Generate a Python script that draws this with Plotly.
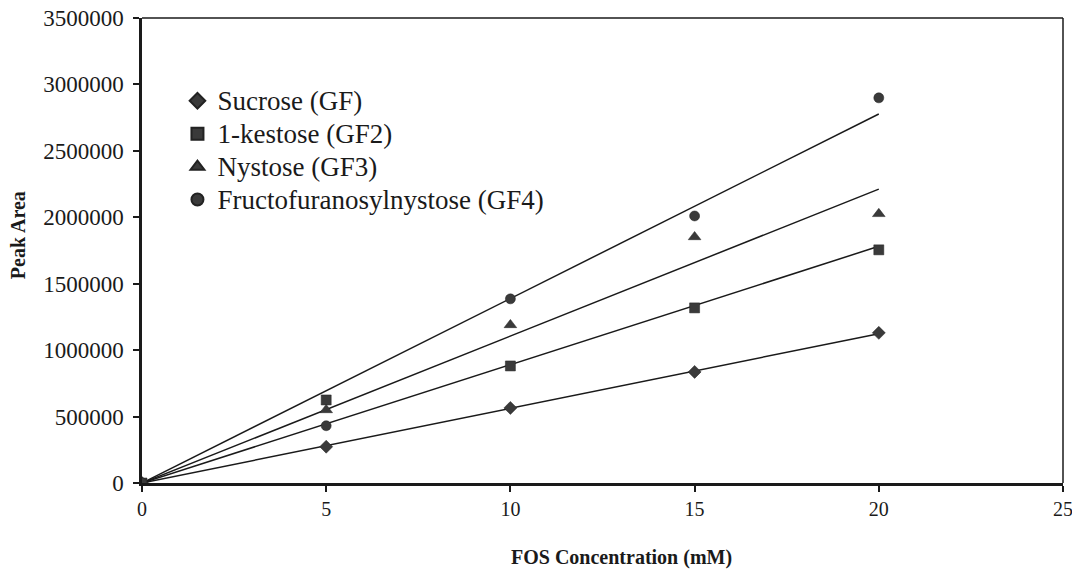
import numpy as np
import plotly.graph_objects as go

conc = [0, 5, 10, 15, 20]
sucrose = [0, 273000, 565000, 836000, 1130000]
kestose = [0, 625000, 881000, 1318000, 1755000]
nystose = [0, 550000, 1190000, 1852000, 2026000]
gf4 = [0, 431000, 1386000, 2010000, 2899000]

names = ["Sucrose (GF)", "1-kestose (GF2)", "Nystose (GF3)", "Fructofuranosylnystose (GF4)"]
series = [sucrose, kestose, nystose, gf4]
symbols = ["diamond", "square", "triangle-up", "circle"]
sizes = [10, 10, 11, 10]

x_ticks = [0, 5, 10, 15, 20, 25]
y_ticks = [0, 500000, 1000000, 1500000, 2000000, 2500000, 3000000, 3500000]

fig = go.Figure()
x = np.array(conc, dtype=float)
for name, ys in zip(names, series):
    y = np.array(ys, dtype=float)
    slope = float((x * y).sum() / (x * x).sum())
    fig.add_trace(go.Scatter(x=[0, 20], y=[0, slope * 20], mode="lines",
                             line=dict(color="#1a1a1a", width=1.5),
                             showlegend=False, hoverinfo="skip"))
for name, ys, sym, sz in zip(names, series, symbols, sizes):
    fig.add_trace(go.Scatter(x=conc, y=ys, mode="markers",
                             name='<span style="font-size:27px">' + name + '</span>',
                             marker=dict(symbol=sym, size=sz, color="#3a3a3a",
                                         line=dict(color="#222", width=0.5))))

font = "Liberation Serif, Times New Roman, serif"
fig.update_layout(
    width=1072, height=575,
    margin=dict(l=142, r=9, t=18, b=92, autoexpand=False),
    paper_bgcolor="white", plot_bgcolor="white",
    font=dict(family=font, color="#1a1a1a", size=16),
    showlegend=True,
    legend=dict(x=0.0385, y=0.868, xanchor="left", yanchor="top",
                font=dict(family=font, size=23, color="#1a1a1a"),
                bgcolor="rgba(0,0,0,0)", itemsizing="constant",
                tracegroupgap=0),
    shapes=[
        dict(type="line", xref="paper", yref="paper", x0=0, x1=1, y0=1, y1=1,
             line=dict(color="#1a1a1a", width=1.5)),
        dict(type="line", xref="paper", yref="paper", x0=1, x1=1, y0=0, y1=1,
             line=dict(color="#1a1a1a", width=1.5)),
    ],
    annotations=[
        dict(text="<b>Peak Area</b>", xref="paper", yref="paper", x=0, y=0.533,
             xanchor="center", yanchor="middle", xshift=-124, textangle=-90,
             showarrow=False, font=dict(family=font, size=20, color="#1a1a1a")),
        dict(text="<b>FOS Concentration (mM)</b>", xref="paper", yref="paper", x=0.521, y=0,
             xanchor="center", yanchor="middle", yshift=-74,
             showarrow=False, font=dict(family=font, size=20, color="#1a1a1a")),
    ],
)
fig.update_xaxes(range=[0, 25], tickvals=x_ticks, automargin=False,
                 ticklabeloverflow="allow",
                 showgrid=False, zeroline=False,
                 showline=True, linecolor="#1a1a1a", linewidth=2.5,
                 ticks="outside", ticklen=6, tickwidth=1.5, tickcolor="#1a1a1a",
                 tickfont=dict(size=20))
fig.update_yaxes(range=[0, 3500000], tickvals=y_ticks,
                 ticktext=[str(v) for v in y_ticks], automargin=False,
                 ticklabeloverflow="allow",
                 showgrid=False, zeroline=False,
                 showline=True, linecolor="#1a1a1a", linewidth=2.5,
                 ticks="outside", ticklen=6, tickwidth=1.5, tickcolor="#1a1a1a",
                 tickfont=dict(size=23), ticklabelstandoff=5)

fig.write_html("out.html", config={"displayModeBar": False},
               post_script="document.body.style.margin='0';document.body.style.overflow='hidden';")
